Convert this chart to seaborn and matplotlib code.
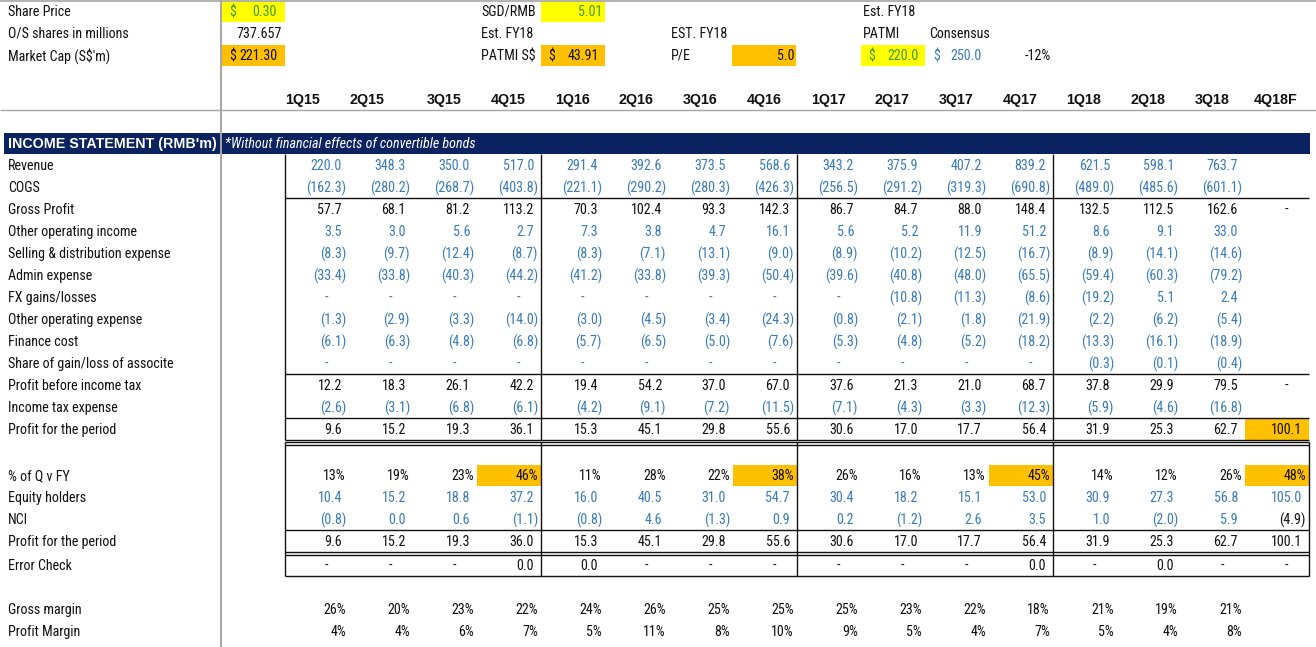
import matplotlib
matplotlib.use("Agg")
import matplotlib.pyplot as plt
import matplotlib.font_manager as fm
import seaborn as sns
from matplotlib.patches import Rectangle

# ---------------- data ----------------
quarters = ['1Q15', '2Q15', '3Q15', '4Q15', '1Q16', '2Q16', '3Q16', '4Q16',
            '1Q17', '2Q17', '3Q17', '4Q17', '1Q18', '2Q18', '3Q18', '4Q18F']

share_price = 0.30
os_shares = 737.657
market_cap = 221.30
sgd_rmb = 5.01
patmi_sgd = 43.91
pe_fy18 = 5.0
patmi_est = 220.0
patmi_consensus = 250.0
vs_consensus = -0.12

revenue = [220.0, 348.3, 350.0, 517.0, 291.4, 392.6, 373.5, 568.6, 343.2, 375.9, 407.2, 839.2, 621.5, 598.1, 763.7, None]
cogs = [-162.3, -280.2, -268.7, -403.8, -221.1, -290.2, -280.3, -426.3, -256.5, -291.2, -319.3, -690.8, -489.0, -485.6, -601.1, None]
gross_profit = [57.7, 68.1, 81.2, 113.2, 70.3, 102.4, 93.3, 142.3, 86.7, 84.7, 88.0, 148.4, 132.5, 112.5, 162.6, 0]
other_income = [3.5, 3.0, 5.6, 2.7, 7.3, 3.8, 4.7, 16.1, 5.6, 5.2, 11.9, 51.2, 8.6, 9.1, 33.0, None]
selling_exp = [-8.3, -9.7, -12.4, -8.7, -8.3, -7.1, -13.1, -9.0, -8.9, -10.2, -12.5, -16.7, -8.9, -14.1, -14.6, None]
admin_exp = [-33.4, -33.8, -40.3, -44.2, -41.2, -33.8, -39.3, -50.4, -39.6, -40.8, -48.0, -65.5, -59.4, -60.3, -79.2, None]
fx_gains = [0, 0, 0, 0, 0, 0, 0, 0, 0, -10.8, -11.3, -8.6, -19.2, 5.1, 2.4, None]
other_exp = [-1.3, -2.9, -3.3, -14.0, -3.0, -4.5, -3.4, -24.3, -0.8, -2.1, -1.8, -21.9, -2.2, -6.2, -5.4, None]
finance_cost = [-6.1, -6.3, -4.8, -6.8, -5.7, -6.5, -5.0, -7.6, -5.3, -4.8, -5.2, -18.2, -13.3, -16.1, -18.9, None]
associate = [0, 0, 0, 0, 0, 0, 0, 0, 0, 0, 0, 0, -0.3, -0.1, -0.4, None]
pbt = [12.2, 18.3, 26.1, 42.2, 19.4, 54.2, 37.0, 67.0, 37.6, 21.3, 21.0, 68.7, 37.8, 29.9, 79.5, 0]
income_tax = [-2.6, -3.1, -6.8, -6.1, -4.2, -9.1, -7.2, -11.5, -7.1, -4.3, -3.3, -12.3, -5.9, -4.6, -16.8, None]
profit_period = [9.6, 15.2, 19.3, 36.1, 15.3, 45.1, 29.8, 55.6, 30.6, 17.0, 17.7, 56.4, 31.9, 25.3, 62.7, 100.1]

pct_q_fy = [0.13, 0.19, 0.23, 0.46, 0.11, 0.28, 0.22, 0.38, 0.26, 0.16, 0.13, 0.45, 0.14, 0.12, 0.26, 0.48]
equity_holders = [10.4, 15.2, 18.8, 37.2, 16.0, 40.5, 31.0, 54.7, 30.4, 18.2, 15.1, 53.0, 30.9, 27.3, 56.8, 105.0]
nci = [-0.8, 0.02, 0.6, -1.1, -0.8, 4.6, -1.3, 0.9, 0.2, -1.2, 2.6, 3.5, 1.0, -2.0, 5.9, -4.9]
profit_period2 = [9.6, 15.2, 19.3, 36.0, 15.3, 45.1, 29.8, 55.6, 30.6, 17.0, 17.7, 56.4, 31.9, 25.3, 62.7, 100.1]
error_check = [0, 0, 0, 0.01, 0.01, 0, 0, 0, 0, 0, 0, 0.01, 0, 0.01, 0, 0]
gross_margin = [0.26, 0.20, 0.23, 0.22, 0.24, 0.26, 0.25, 0.25, 0.25, 0.23, 0.22, 0.18, 0.21, 0.19, 0.21, None]
profit_margin = [0.04, 0.04, 0.06, 0.07, 0.05, 0.11, 0.08, 0.10, 0.09, 0.05, 0.04, 0.07, 0.05, 0.04, 0.08, None]

# ---------------- style ----------------
sns.set_theme(style="white")
plt.rcParams['font.family'] = ['Liberation Sans', 'DejaVu Sans']
BLUE = '#3A7BB8'
GREEN = '#3E9A2C'
BLACK = '#111111'
NAVY = '#0B2461'
ORANGE = '#FFC000'
YELLOW = '#FFFF00'
PANE = '#A6A6A6'

W, H = 1316, 647
fig = plt.figure(figsize=(W / 100, H / 100), dpi=100)
ax = fig.add_axes([0, 0, 1, 1])
ax.set_xlim(0, W)
ax.set_ylim(H, 0)
ax.axis('off')


def pick_narrow():
    """Find a narrow sans face (the sheet uses a narrow Arial-like font)."""
    names = {f.name for f in fm.fontManager.ttflist}
    for n in ['Liberation Sans Narrow', 'Arial Narrow', 'Roboto Condensed',
              'Noto Sans Condensed', 'Open Sans Condensed', 'DejaVu Sans Condensed']:
        if n in names:
            return dict(family=n)
    for n in ['Noto Sans', 'Open Sans', 'Roboto', 'DejaVu Sans']:
        try:
            path = fm.findfont(fm.FontProperties(family=n, stretch='condensed'),
                               fallback_to_default=False)
        except Exception:
            continue
        p = path.lower()
        if ('condensed' in p or 'narrow' in p) and 'extra' not in p and 'ultra' not in p:
            return dict(family=n, stretch='condensed')
    return dict(family='Liberation Sans')


NARROW = pick_narrow()

# calibrate the narrow font size so that labels have the sheet's widths
renderer = fig.canvas.get_renderer()
probe = ax.text(0, 0, 'Selling & distribution expense', fontsize=10,
                fontproperties=fm.FontProperties(size=10, **NARROW))
w10 = probe.get_window_extent(renderer).width
probe.remove()
FSN = max(8.0, min(11.0, 10.0 * 162.0 / w10))
FSB = 10.3


def fprops(kind):
    if kind == 'bold':
        return fm.FontProperties(family='Liberation Sans', weight='bold', size=FSB)
    if kind == 'ital':
        return fm.FontProperties(style='italic', size=FSN, **NARROW)
    return fm.FontProperties(size=FSN, **NARROW)


ROW_H = 22
COL0 = 285      # left edge of first quarter column
COL_W = 64
LAB_X = 8
DY = 1.0        # text baseline nudge


def row_top(k):
    return k * ROW_H


def row_c(k):
    return k * ROW_H + ROW_H / 2


def col_left(i):
    return COL0 + COL_W * i


def col_right(i):
    return COL0 + COL_W * (i + 1)


def txt(x, y, s, ha='left', color=BLACK, kind='reg'):
    ax.text(x, y + DY, s, ha=ha, va='center', color=color, fontproperties=fprops(kind))


def acc(i, y, v, color):
    """Excel accounting style number in quarter column i."""
    if v is None:
        return
    r = col_right(i)
    if v == 0:
        txt(r - 23, y, '-', ha='center', color=color)
    elif v < 0:
        txt(r - 3, y, f"({abs(v):.1f})", ha='right', color=color)
    else:
        txt(r - 7, y, f"{v:.1f}", ha='right', color=color)


def pct(i, y, v, color=BLACK):
    if v is None:
        return
    txt(col_right(i) - 3, y, f"{v * 100:.0f}%", ha='right', color=color)


def hline(y, x0, x1, lw=1.0, color=BLACK):
    ax.plot([x0, x1], [y, y], color=color, lw=lw, solid_capstyle='butt')


def vline(x, y0, y1, lw=1.0, color=BLACK):
    ax.plot([x, x], [y0, y1], color=color, lw=lw, solid_capstyle='butt')


def fill(x0, y0, w, h, color):
    ax.add_patch(Rectangle((x0, y0), w, h, facecolor=color, edgecolor='none', zorder=0))


# ---------------- top inputs ----------------
B0, B1 = 222, 285
fill(B0, 1, B1 - B0, 21, YELLOW)
fill(B0, 45, B1 - B0, 21, ORANGE)
txt(LAB_X, row_c(0), 'Share Price')
txt(LAB_X, row_c(1), 'O/S shares in millions')
txt(LAB_X, row_c(2), "Market Cap (S$'m)")
txt(B0 + 7, row_c(0), '$', color=GREEN)
txt(B1 - 8, row_c(0), f"{share_price:.2f}", ha='right', color=GREEN)
txt(B1 - 3, row_c(1), f"{os_shares:.3f}", ha='right')
txt(B0 + 7, row_c(2), '$')
txt(B1 - 7, row_c(2), f"{market_cap:.2f}", ha='right')

# SGD/RMB block
lx = 481
fill(col_left(4), 1, COL_W, 21, YELLOW)
fill(col_left(4), 45, COL_W, 21, ORANGE)
txt(lx, row_c(0), 'SGD/RMB')
txt(col_right(4) - 3, row_c(0), f"{sgd_rmb:.2f}", ha='right', color=GREEN)
txt(lx, row_c(1), 'Est. FY18')
txt(lx, row_c(2), 'PATMI S$')
txt(col_left(4) + 7, row_c(2), '$')
txt(col_right(4) - 6, row_c(2), f"{patmi_sgd:.2f}", ha='right')

# P/E block
fill(col_left(7) - 1, 45, COL_W, 21, ORANGE)
txt(671, row_c(1), 'EST. FY18')
txt(671, row_c(2), 'P/E')
txt(col_right(7) - 3, row_c(2), f"{pe_fy18:.1f}", ha='right')

# PATMI vs consensus block
fill(col_left(9), 45, COL_W, 21, YELLOW)
txt(863, row_c(0), 'Est. FY18')
txt(863, row_c(1), 'PATMI')
txt(929, row_c(1), 'Consensus')
txt(col_left(9) + 7, row_c(2), '$', color=GREEN)
txt(col_right(9) - 6, row_c(2), f"{patmi_est:.1f}", ha='right', color=GREEN)
txt(col_left(10) + 8, row_c(2), '$', color=BLUE)
txt(col_right(10) - 7, row_c(2), f"{patmi_consensus:.1f}", ha='right', color=BLUE)
txt(col_right(11) - 2, row_c(2), f"{vs_consensus * 100:.0f}%", ha='right')

# ---------------- quarter headers ----------------
header_align = ['left', 'left'] + ['center'] * 14
for i, q in enumerate(quarters):
    if header_align[i] == 'left':
        txt(col_left(i) + (1 if i else 0), row_c(4), q, ha='left', kind='bold')
    else:
        txt(col_left(i) + COL_W / 2 - 1, row_c(4), q, ha='center', kind='bold')

# ---------------- section band ----------------
fill(4, row_top(6) + 1, 1306, ROW_H - 1, NAVY)
txt(LAB_X, row_c(6), "INCOME STATEMENT (RMB'm)", color='white', kind='bold')
txt(225, row_c(6), "*Without financial effects of convertible bonds", color='white', kind='ital')

# ---------------- income statement rows ----------------
upper_rows = [
    ('Revenue', revenue, BLUE),
    ('COGS', cogs, BLUE),
    ('Gross Profit', gross_profit, BLACK),
    ('Other operating income', other_income, BLUE),
    ('Selling & distribution expense', selling_exp, BLUE),
    ('Admin expense', admin_exp, BLUE),
    ('FX gains/losses', fx_gains, BLUE),
    ('Other operating expense', other_exp, BLUE),
    ('Finance cost', finance_cost, BLUE),
    ('Share of gain/loss of associte', associate, BLUE),
    ('Profit before income tax', pbt, BLACK),
    ('Income tax expense', income_tax, BLUE),
    ('Profit for the period', profit_period, BLACK),
]
fill(col_left(15), row_top(19), COL_W, ROW_H, ORANGE)
for j, (lab, vals, colr) in enumerate(upper_rows):
    k = 7 + j
    txt(LAB_X, row_c(k), lab)
    for i, v in enumerate(vals):
        acc(i, row_c(k), v, colr)

# borders of upper box
top_u, bot_u = row_top(7), row_top(20)
for x in (col_left(0), col_left(4), col_left(8), col_left(12)):
    vline(x, top_u, bot_u)
for y in (row_top(9), row_top(17), row_top(19), row_top(20)):
    hline(y, col_left(0), col_right(15))

# ---------------- lower block ----------------
low_y = [475, 497, 519, 541, 565, 609, 631]
low_top = 441.5
for i in (3, 7, 11, 15):
    fill(col_left(i), 465, COL_W, 21, ORANGE)

txt(LAB_X, low_y[0], '% of Q v FY')
for i, v in enumerate(pct_q_fy):
    pct(i, low_y[0], v)
txt(LAB_X, low_y[1], 'Equity holders')
for i, v in enumerate(equity_holders):
    acc(i, low_y[1], v, BLUE)
txt(LAB_X, low_y[2], 'NCI')
for i, v in enumerate(nci):
    acc(i, low_y[2], v, BLUE if i < 15 else BLACK)
txt(LAB_X, low_y[3], 'Profit for the period')
for i, v in enumerate(profit_period2):
    acc(i, low_y[3], v, BLACK)
txt(LAB_X, low_y[4], 'Error Check')
for i, v in enumerate(error_check):
    acc(i, low_y[4], v, BLACK)
txt(LAB_X, low_y[5], 'Gross margin')
for i, v in enumerate(gross_margin):
    pct(i, low_y[5], v)
txt(LAB_X, low_y[6], 'Profit Margin')
for i, v in enumerate(profit_margin):
    pct(i, low_y[6], v)

x0, x1 = col_left(0), col_right(15)
hline(low_top, x0, x1)
hline(444.5, x0, x1)
hline(530, x0, x1)
hline(552, x0, x1)
hline(554.5, x0, x1)
hline(576, x0, x1)
for x in (col_left(0), col_left(4), col_left(8), col_left(12), col_right(15)):
    vline(x, low_top, 576)

# ---------------- frozen-pane lines ----------------
vline(221, 0, H, lw=1.4, color=PANE)
hline(110, 0, W, lw=1.0, color=PANE)
hline(0.6, 0, W, lw=1.2, color=PANE)

fig.savefig('out.png', dpi=100)
